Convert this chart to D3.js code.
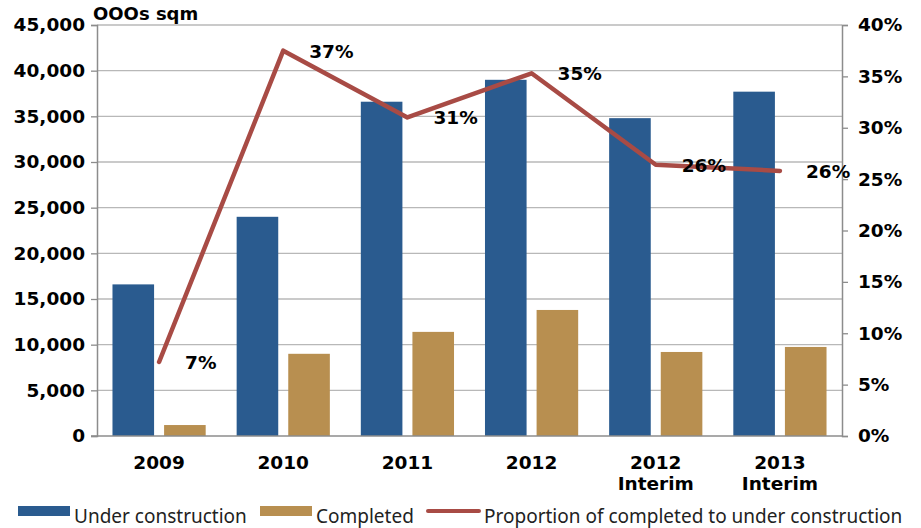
<!DOCTYPE html>
<html lang="en">
<head>
    <meta charset="UTF-8">
    <title>Under construction vs completed</title>
    <script src="https://d3js.org/d3.v7.min.js"></script>
    <style>
        body {
            margin: 0;
            background: #fff;
        }

        svg {
            display: block;
        }

        .tick text {
            font-family: 'DejaVu Sans', sans-serif;
            font-weight: bold;
            font-size: 18.5px;
            fill: #000;
        }

        .legend text {
            font-family: 'Noto Sans', sans-serif;
            font-size: 19px;
            fill: #222;
        }
    </style>
</head>
<body>
    <svg width="921" height="528" id="chart"></svg>

    <script>
        // data
        const categories = [["2009"], ["2010"], ["2011"], ["2012"], ["2012", "Interim"], ["2013", "Interim"]];
        const underConstruction = [16600, 24000, 36600, 39000, 34800, 37700];
        const completed = [1200, 9000, 11400, 13800, 9200, 9750];
        const proportion = [7.2, 37.5, 31.0, 35.3, 26.4, 25.8];
        const proportionLabels = ["7%", "37%", "31%", "35%", "26%", "26%"];
        const leftTicks = [0, 5000, 10000, 15000, 20000, 25000, 30000, 35000, 40000, 45000];
        const rightTicks = [0, 5, 10, 15, 20, 25, 30, 35, 40];

        const colors = { under: "#2A5B8F", done: "#B88F50", line: "#A84B45" };

        const margin = { top: 25, right: 79, bottom: 92, left: 97 };
        const width = 921, height = 528;
        const svg = d3.select("#chart");

        const keys = categories.map(c => c.join(" "));

        const x = d3.scaleBand()
            .domain(keys)
            .range([margin.left, width - margin.right]);

        const xSub = d3.scaleBand()
            .domain(["under", "done"])
            .range([0, x.bandwidth()])
            .paddingInner(0.194)
            .paddingOuter(0.3);

        const yLeft = d3.scaleLinear()
            .domain([0, 45000])
            .range([height - margin.bottom, margin.top]);

        const yRight = d3.scaleLinear()
            .domain([0, 40])
            .range([height - margin.bottom, margin.top]);

        // gridlines
        svg.append("g")
            .selectAll("line")
            .data(leftTicks.slice(1))
            .enter().append("line")
            .attr("x1", margin.left)
            .attr("x2", width - margin.right)
            .attr("y1", d => yLeft(d))
            .attr("y2", d => yLeft(d))
            .style("stroke", "#b8b8b8")
            .style("stroke-width", 1.3);

        // bars
        const rows = keys.map((k, i) => ({ key: k, under: underConstruction[i], done: completed[i] }));

        const groups = svg.append("g")
            .selectAll("g")
            .data(rows)
            .enter().append("g")
            .attr("transform", d => `translate(${x(d.key)},0)`);

        groups.selectAll("rect")
            .data(d => ["under", "done"].map(s => ({ s: s, v: d[s] })))
            .enter().append("rect")
            .attr("x", d => xSub(d.s))
            .attr("width", xSub.bandwidth())
            .attr("y", d => yLeft(d.v))
            .attr("height", d => yLeft(0) - yLeft(d.v))
            .style("fill", d => colors[d.s]);

        // axes
        const leftAxis = d3.axisLeft(yLeft)
            .tickValues(leftTicks)
            .tickSize(6)
            .tickPadding(6)
            .tickFormat(d3.format(","));

        const gl = svg.append("g")
            .attr("transform", `translate(${margin.left},0)`)
            .call(leftAxis);

        const rightAxis = d3.axisRight(yRight)
            .tickValues(rightTicks)
            .tickSize(6)
            .tickPadding(10)
            .tickFormat(d => d + "%");

        const gr = svg.append("g")
            .attr("transform", `translate(${width - margin.right},0)`)
            .call(rightAxis);

        [gl, gr].forEach(g => {
            g.select(".domain").style("stroke", "#8c8c8c").style("stroke-width", 1.5);
            g.selectAll(".tick line").style("stroke", "#8c8c8c").style("stroke-width", 1.3);
        });

        // bottom axis line
        svg.append("line")
            .attr("x1", margin.left - 6)
            .attr("x2", width - margin.right)
            .attr("y1", yLeft(0))
            .attr("y2", yLeft(0))
            .style("stroke", "#8c8c8c")
            .style("stroke-width", 1.5);

        // category labels
        const catLabels = svg.append("g").attr("class", "tick")
            .selectAll("text")
            .data(categories)
            .enter().append("text")
            .attr("text-anchor", "middle")
            .attr("x", (d, i) => x(keys[i]) + x.bandwidth() / 2)
            .attr("y", 469);

        catLabels.selectAll("tspan")
            .data(d => d)
            .enter().append("tspan")
            .attr("x", function () { return d3.select(this.parentNode).attr("x"); })
            .attr("dy", (d, i) => i === 0 ? 0 : 21)
            .text(d => d);

        // unit label
        svg.append("text")
            .attr("class", "unit")
            .attr("x", 93)
            .attr("y", 20)
            .style("font-family", "'DejaVu Sans', sans-serif")
            .style("font-weight", "bold")
            .style("font-size", "18px")
            .text("OOOs sqm");

        // proportion line
        const cx = i => x(keys[i]) + x.bandwidth() / 2;

        const line = d3.line()
            .x((d, i) => cx(i))
            .y(d => yRight(d));

        svg.append("path")
            .datum(proportion)
            .attr("d", line)
            .style("fill", "none")
            .style("stroke", colors.line)
            .style("stroke-width", 4.5)
            .style("stroke-linecap", "round")
            .style("stroke-linejoin", "round");

        svg.append("g").attr("class", "tick")
            .selectAll("text")
            .data(proportion)
            .enter().append("text")
            .attr("x", (d, i) => cx(i) + 26)
            .attr("y", d => yRight(d) + 7)
            .text((d, i) => proportionLabels[i]);

        // legend
        const legend = svg.append("g").attr("class", "legend");

        const legendItems = [
            { label: "Under construction", type: "rect", color: colors.under, x: 18 },
            { label: "Completed", type: "rect", color: colors.done, x: 260 },
            { label: "Proportion of completed to under construction", type: "line", color: colors.line, x: 428 }
        ];

        legendItems.forEach(item => {
            if (item.type === "rect") {
                legend.append("rect")
                    .attr("x", item.x)
                    .attr("y", 506)
                    .attr("width", 52)
                    .attr("height", 10)
                    .style("fill", item.color);
            } else {
                legend.append("line")
                    .attr("x1", item.x)
                    .attr("x2", item.x + 51)
                    .attr("y1", 511)
                    .attr("y2", 511)
                    .style("stroke", item.color)
                    .style("stroke-width", 4)
                    .style("stroke-linecap", "round");
            }
            legend.append("text")
                .attr("x", item.x + 56)
                .attr("y", 523)
                .text(item.label);
        });
    </script>
</body>
</html>
